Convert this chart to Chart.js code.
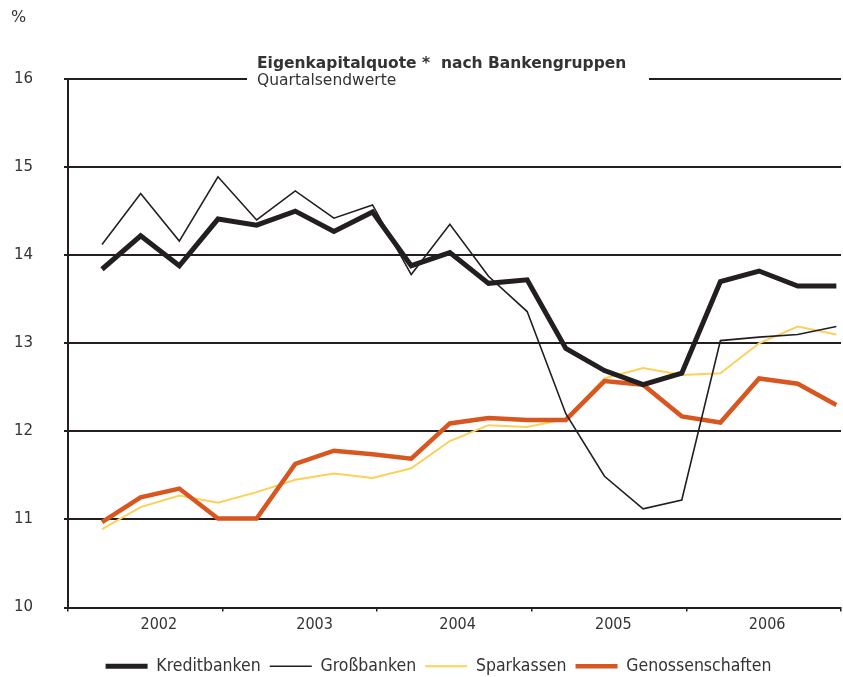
<!DOCTYPE html>
<html>
<head>
<meta charset="utf-8">
<script src="https://cdn.jsdelivr.net/npm/chart.js@4.4.1/dist/chart.umd.min.js"></script>
<style>
  html, body { margin: 0; padding: 0; background: #fff; }
  #wrap { width: 843px; height: 677px; }
</style>
</head>
<body>
<div id="wrap"><canvas id="chart" width="843" height="677"></canvas></div>
<script>
// Eigenkapitalquote nach Bankengruppen, Quartalsendwerte 2002-2006 (in %)
const quarters = [
  '2002 Q1', '2002 Q2', '2002 Q3', '2002 Q4',
  '2003 Q1', '2003 Q2', '2003 Q3', '2003 Q4',
  '2004 Q1', '2004 Q2', '2004 Q3', '2004 Q4',
  '2005 Q1', '2005 Q2', '2005 Q3', '2005 Q4',
  '2006 Q1', '2006 Q2', '2006 Q3', '2006 Q4'
];
const kreditbanken = [13.84, 14.22, 13.88, 14.41, 14.34, 14.50, 14.27, 14.49, 13.88, 14.03,
                      13.68, 13.72, 12.94, 12.69, 12.53, 12.66, 13.70, 13.82, 13.65, 13.65];
const grossbanken = [14.12, 14.70, 14.16, 14.89, 14.40, 14.73, 14.42, 14.57, 13.78, 14.35,
                     13.76, 13.36, 12.20, 11.49, 11.12, 11.22, 13.03, 13.07, 13.10, 13.19];
const sparkassen = [10.89, 11.14, 11.27, 11.19, 11.31, 11.45, 11.52, 11.47, 11.58, 11.89,
                    12.07, 12.05, 12.14, 12.60, 12.72, 12.64, 12.66, 13.00, 13.19, 13.10];
const genossenschaften = [10.97, 11.25, 11.35, 11.01, 11.01, 11.63, 11.78, 11.74, 11.69, 12.09,
                          12.15, 12.13, 12.13, 12.57, 12.53, 12.17, 12.10, 12.60, 12.54, 12.30];
const years = ['2002', '2003', '2004', '2005', '2006'];

// x-Achse: Quartalsindex; Jahresgrenzen und Beschriftungsmitten
const xMin = -0.88, xMax = 19.12;
const yearBounds = [-0.88, 3.12, 7.12, 11.12, 15.12, 19.12];
const yearLabelPos = [1.47, 5.50, 9.20, 13.23, 17.21];

const ink = '#231f20';
const txt = '#333333';

const toPoints = arr => arr.map((v, i) => ({ x: i, y: v }));

// Titelkasten oben (unterbricht die 16er-Linie)
const titlePlugin = {
  id: 'titel',
  afterDraw(chart) {
    const c = chart.ctx;
    c.save();
    c.fillStyle = '#fff';
    c.fillRect(247, 72, 402, 16);
    c.fillStyle = txt;
    c.textBaseline = 'middle';
    c.textAlign = 'left';
    c.font = 'bold 15.5px "DejaVu Sans"';
    c.fillText('Eigenkapitalquote *  nach Bankengruppen', 257, 64);
    c.font = '15.5px "DejaVu Sans"';
    c.fillText('Quartalsendwerte', 257, 81);
    c.font = '16px "DejaVu Sans"';
    c.fillText('%', 11, 18);
    c.restore();
  }
};

new Chart(document.getElementById('chart'), {
  type: 'line',
  data: {
    labels: quarters,
    datasets: [
      { label: 'Kreditbanken', data: toPoints(kreditbanken), borderColor: ink, backgroundColor: ink, borderWidth: 5, order: 0 },
      { label: 'Großbanken', data: toPoints(grossbanken), borderColor: ink, backgroundColor: ink, borderWidth: 1.6, order: 1 },
      { label: 'Sparkassen', data: toPoints(sparkassen), borderColor: '#fdd05a', backgroundColor: '#fdd05a', borderWidth: 2, order: 3 },
      { label: 'Genossenschaften', data: toPoints(genossenschaften), borderColor: '#d8561f', backgroundColor: '#d8561f', borderWidth: 4.5, order: 2 }
    ]
  },
  options: {
    responsive: false,
    animation: false,
    // rechts negativ, damit die Legende mittig unter dem Diagramm steht
    layout: { padding: { left: 0, right: -34, top: 79, bottom: -8 } },
    elements: {
      point: { radius: 0, hoverRadius: 0 },
      line: { tension: 0, borderJoinStyle: 'miter', borderCapStyle: 'butt' }
    },
    scales: {
      x: {
        type: 'linear',
        min: xMin,
        max: xMax,
        afterBuildTicks: scale => {
          scale.ticks = yearBounds.concat(yearLabelPos).sort((a, b) => a - b).map(v => ({ value: v }));
        },
        afterFit: scale => {
          scale.height = 41;
          scale.paddingLeft = 0;
          scale.paddingRight = 2;
        },
        border: { display: true, color: ink, width: 2 },
        grid: {
          drawOnChartArea: false,
          drawTicks: true,
          tickLength: 4,
          lineWidth: 1.5,
          color: ctx => (ctx.tick && yearBounds.includes(ctx.tick.value)) ? ink : 'rgba(0,0,0,0)'
        },
        ticks: {
          autoSkip: false,
          maxRotation: 0,
          padding: 4,
          color: txt,
          font: { family: 'DejaVu Sans Condensed, DejaVu Sans', size: 16 },
          callback: v => {
            const k = yearLabelPos.indexOf(v);
            return k >= 0 ? years[k] : '';
          }
        }
      },
      y: {
        min: 10,
        max: 16,
        afterFit: scale => { scale.width = 68; },
        border: { display: true, color: ink, width: 2 },
        grid: { color: ink, lineWidth: 2, tickLength: 4, drawTicks: true },
        ticks: {
          stepSize: 1,
          padding: 31,
          color: txt,
          font: { family: 'DejaVu Sans', size: 15 }
        }
      }
    },
    plugins: {
      legend: {
        position: 'bottom',
        labels: {
          usePointStyle: true,
          pointStyle: 'line',
          pointStyleWidth: 42,
          padding: 9,
          color: txt,
          font: { family: 'DejaVu Sans Condensed, DejaVu Sans', size: 17.5 },
          sort: (a, b) => a.datasetIndex - b.datasetIndex
        }
      },
      tooltip: { enabled: false },
      title: { display: false }
    }
  },
  plugins: [titlePlugin]
});
</script>
</body>
</html>
